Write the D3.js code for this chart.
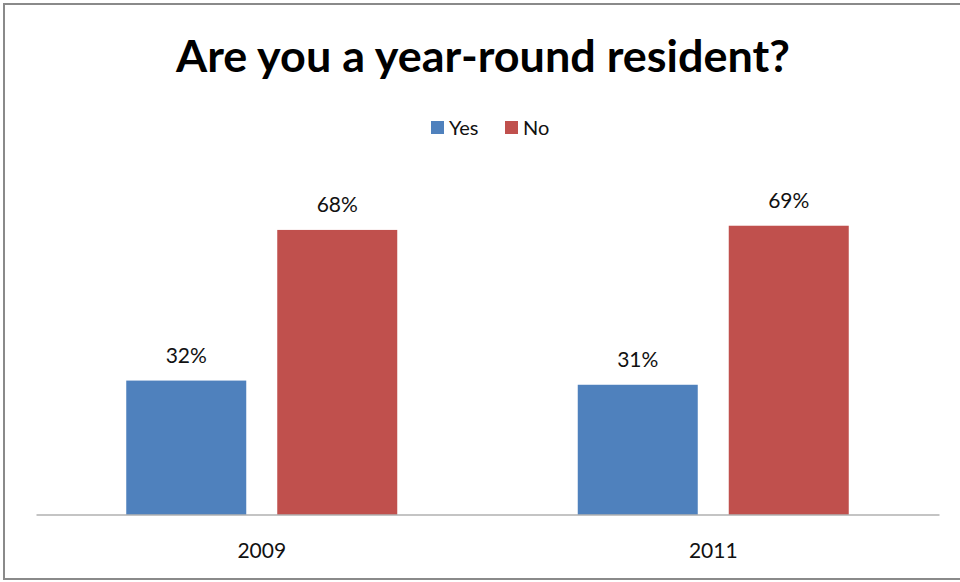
<!DOCTYPE html>
<html>
<head>
<meta charset="utf-8">
<script src="https://cdn.jsdelivr.net/npm/d3@7"></script>
<style>
  html, body { margin: 0; padding: 0; background: #fff; }
  svg { display: block; }
</style>
</head>
<body>
<svg id="chart" width="960" height="582"></svg>
<script>
// Survey results by year
const years = ["2009", "2011"];
const seriesNames = ["Yes", "No"];
const yesValues = [0.32, 0.31];
const noValues = [0.68, 0.69];
const seriesColors = ["#4F81BD", "#C0504D"];
const titleText = "Are you a year-round resident?";

const rows = years.map((y, i) => ({ year: y, Yes: yesValues[i], No: noValues[i] }));

const svg = d3.select("#chart");
const W = 960, H = 582;
const font = "Lato, 'Open Sans', sans-serif";

// chart frame
svg.append("rect")
  .attr("x", 4).attr("y", 4)
  .attr("width", W + 10).attr("height", 575)
  .attr("fill", "#fff")
  .attr("stroke", "#8a8a8a").attr("stroke-width", 2);

const plot = { left: 36, right: 939, top: 96, bottom: 514.5 };

const x0 = d3.scaleBand().domain(years).range([plot.left, plot.right]).paddingInner(0).paddingOuter(0);
const groupWidth = 271;
const x1 = d3.scaleBand().domain(seriesNames).range([0, groupWidth]).paddingInner(31 / 151);
const y = d3.scaleLinear().domain([0, 1]).range([plot.bottom, plot.top]);
const color = d3.scaleOrdinal().domain(seriesNames).range(seriesColors);

// title
svg.append("text")
  .attr("x", 483).attr("y", 72)
  .attr("text-anchor", "middle")
  .attr("font-family", font).attr("font-weight", "bold")
  .attr("font-size", 44)
  .attr("textLength", 614)
  .attr("lengthAdjust", "spacingAndGlyphs")
  .attr("fill", "#000")
  .text(titleText);

// legend
const legend = svg.append("g").attr("font-family", font).attr("font-size", 20).attr("fill", "#111");
const legendItems = [{ name: "Yes", x: 431 }, { name: "No", x: 505 }];
legendItems.forEach(item => {
  legend.append("rect")
    .attr("x", item.x).attr("y", 121)
    .attr("width", 13).attr("height", 13)
    .attr("fill", color(item.name));
  legend.append("text")
    .attr("x", item.x + 18).attr("y", 135)
    .text(item.name);
});

// bars
const groups = svg.append("g").selectAll("g")
  .data(rows).join("g")
  .attr("transform", d => `translate(${x0(d.year) + (x0.bandwidth() - groupWidth) / 2},0)`);

groups.selectAll("rect")
  .data(d => seriesNames.map(k => ({ key: k, value: d[k] })))
  .join("rect")
  .attr("x", d => x1(d.key))
  .attr("y", d => y(d.value))
  .attr("width", x1.bandwidth())
  .attr("height", d => y(0) - y(d.value))
  .attr("fill", d => color(d.key));

groups.selectAll("text")
  .data(d => seriesNames.map(k => ({ key: k, value: d[k] })))
  .join("text")
  .attr("x", d => x1(d.key) + x1.bandwidth() / 2)
  .attr("y", d => y(d.value) - 18)
  .attr("text-anchor", "middle")
  .attr("font-family", font).attr("font-size", 21)
  .attr("fill", "#111")
  .text(d => d3.format(".0%")(d.value));

// category axis
const xAxis = svg.append("g")
  .attr("transform", `translate(0,${plot.bottom})`)
  .call(d3.axisBottom(x0).tickSize(0).tickPadding(28.5));
xAxis.select(".domain").attr("stroke", "#8a8a8a").attr("stroke-width", 1.2);
xAxis.selectAll("text")
  .attr("font-family", font).attr("font-size", 21)
  .attr("fill", "#111");
</script>
</body>
</html>
